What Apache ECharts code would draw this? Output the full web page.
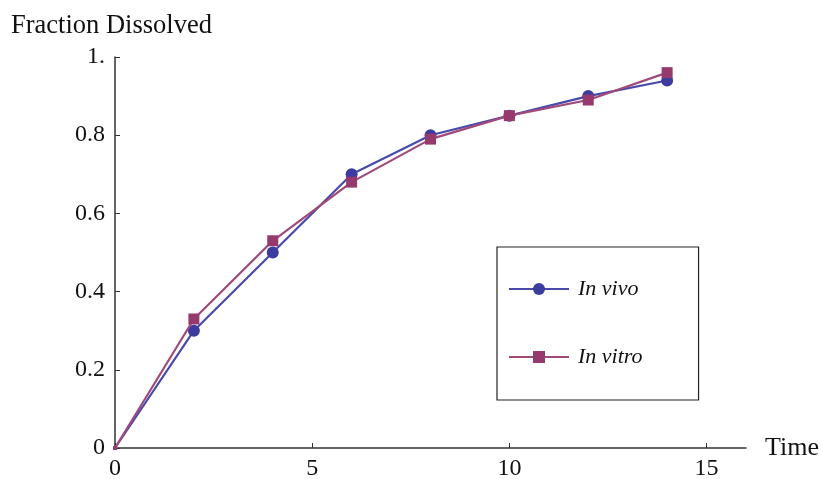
<!DOCTYPE html>
<html>
<head>
<meta charset="utf-8">
<script src="https://cdn.jsdelivr.net/npm/echarts@6/dist/echarts.min.js"></script>
<style>
  html, body { margin: 0; padding: 0; background: #fff; }
  #chart { width: 822px; height: 479px; }
</style>
</head>
<body>
<div id="chart"></div>
<script>
// time points and dissolved fractions
const times = [0, 2, 4, 6, 8, 10, 12, 14]
const inVivo = [0, 0.30, 0.50, 0.70, 0.80, 0.85, 0.90, 0.94]
const inVitro = [0, 0.33, 0.53, 0.68, 0.79, 0.85, 0.89, 0.96]
const xTicks = [0, 5, 10, 15]
const yTicks = [0, 0.2, 0.4, 0.6, 0.8, 1]

const pair = (ys) => times.map((t, i) => [t, ys[i]])
const font = 'Liberation Serif'

const chart = echarts.init(document.getElementById('chart'))

const option = {
  animation: false,
  backgroundColor: '#fff',
  grid: { left: 115, top: 57, right: 76, bottom: 31, outerBoundsMode: 'none' },
  legend: {
    orient: 'vertical',
    left: 497,
    top: 247,
    padding: [31, 56, 32, 11],
    itemGap: 46,
    itemWidth: 60,
    itemHeight: 15,
    borderColor: '#222',
    borderWidth: 1.2,
    textStyle: {
      fontFamily: font,
      fontStyle: 'italic',
      fontSize: 22,
      lineHeight: 22,
      color: '#111',
      padding: [0, 0, 0, 4]
    },
    data: ['In vivo', 'In vitro']
  },
  xAxis: {
    type: 'value',
    min: 0,
    max: 16,
    name: 'Time',
    nameLocation: 'end',
    nameGap: 19,
    nameTextStyle: { fontFamily: font, fontSize: 26, color: '#111' },
    splitLine: { show: false },
    axisLine: { lineStyle: { color: '#333', width: 1.5 } },
    axisTick: { inside: true, length: 5, customValues: xTicks, lineStyle: { color: '#333' } },
    axisLabel: { customValues: xTicks, fontFamily: font, fontSize: 24, color: '#111', margin: 9 }
  },
  yAxis: {
    type: 'value',
    min: 0,
    max: 1,
    name: 'Fraction Dissolved',
    nameLocation: 'end',
    nameGap: 17,
    nameTextStyle: { fontFamily: font, fontSize: 26.5, color: '#111', align: 'center', padding: [0, 7, 0, 0] },
    splitLine: { show: false },
    axisLine: { show: true, lineStyle: { color: '#333', width: 1.5 } },
    axisTick: { show: true, inside: true, length: 5, customValues: yTicks, lineStyle: { color: '#333' } },
    axisLabel: {
      customValues: yTicks,
      fontFamily: font,
      fontSize: 24,
      color: '#111',
      margin: 10,
      formatter: (v) => (v === 1 ? '1.' : String(v))
    }
  },
  series: [
    {
      name: 'In vivo',
      type: 'line',
      data: pair(inVivo),
      symbol: 'circle',
      symbolSize: (v) => (v[0] === 0 ? 4 : 12),
      itemStyle: { color: '#3c3ca0' },
      lineStyle: { color: '#4a4aaa', width: 2.2 },
      z: 2
    },
    {
      name: 'In vitro',
      type: 'line',
      data: pair(inVitro),
      symbol: 'rect',
      symbolSize: (v) => (v[0] === 0 ? 4 : 11),
      itemStyle: { color: '#963a6e' },
      lineStyle: { color: '#a04a7a', width: 2.2 },
      z: 3
    }
  ]
}

chart.setOption(option)

window.addEventListener('resize', () => chart.resize())
</script>
</body>
</html>
